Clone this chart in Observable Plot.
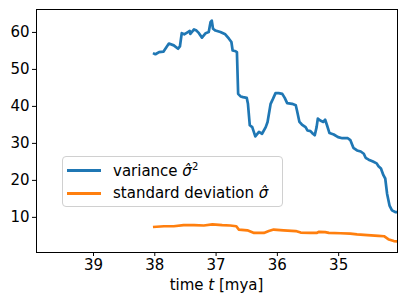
<!DOCTYPE html>
<html>
<head>
<meta charset="utf-8">
<script src="https://cdn.jsdelivr.net/npm/d3@7"></script>
<script src="https://cdn.jsdelivr.net/npm/@observablehq/plot@0.6"></script>
<style>
  html, body { margin: 0; padding: 0; background: #fff; }
  #wrap { position: relative; width: 407px; height: 305px; font-family: "DejaVu Sans", sans-serif; }
  #legend { position: absolute; left: 62px; top: 156px; width: 219px; height: 49px;
    border: 1px solid #d0d0d0; border-radius: 4px; background: rgba(255,255,255,0.8);
    font-size: 15px; color: #000; }
  .row { position: absolute; left: 0; height: 20px; display: flex; align-items: center; }
  .sw { display: inline-block; width: 34px; height: 3px; margin-left: 4px; margin-right: 12px; }
  #xlabel { position: absolute; top: 276px; left: 0; width: 433px; text-align: center; font-size: 15px; }
</style>
</head>
<body>
<div id="wrap"></div>
<script>
// variance σ̂² series
const varT = [38.03,37.99,37.93,37.86,37.77,37.69,37.62,37.59,37.56,37.52,37.46,37.43,37.42,37.36,37.32,37.28,37.23,37.17,37.12,37.09,37.07,37.05,37.01,36.93,36.85,36.79,36.75,36.73,36.68,36.66,36.64,36.60,36.56,36.50,36.48,36.45,36.41,36.36,36.30,36.25,36.19,36.16,36.11,36.07,36.03,35.98,35.92,35.88,35.84,35.76,35.70,35.68,35.64,35.60,35.54,35.51,35.46,35.42,35.39,35.36,35.34,35.30,35.25,35.22,35.19,35.15,35.08,35.01,34.94,34.85,34.81,34.76,34.70,34.64,34.59,34.56,34.51,34.44,34.38,34.35,34.31,34.27,34.24,34.21,34.17,34.13,34.07,34.04];
const varV = [54.4,54.1,54.7,54.8,57.0,56.5,55.6,56.2,59.8,59.5,60.1,60.4,59.6,60.8,60.5,59.8,58.6,59.8,60.1,62.8,63.2,61.0,60.5,60.1,59.5,58.3,57.4,55.1,54.9,54.7,43.4,42.7,42.5,42.3,40.7,34.9,34.4,31.9,33.1,32.6,34.4,35.8,40.7,42.1,43.6,43.6,43.4,42.3,40.9,40.7,40.3,38.9,35.8,35.1,34.4,33.5,33.3,32.6,32.2,34.4,36.7,36.2,35.8,36.4,34.9,32.8,32.4,31.7,31.4,31.4,30.9,28.8,28.1,27.8,27.2,26.1,25.6,25.1,24.6,23.8,23.2,21.4,20.5,16.4,13.2,11.9,11.4,11.4];
// standard deviation σ̂ series
const sdT = [38.03,37.85,37.69,37.53,37.36,37.20,37.06,36.90,36.77,36.67,36.63,36.49,36.38,36.22,36.14,36.06,35.90,35.70,35.62,35.46,35.36,35.32,35.22,35.16,34.97,34.81,34.70,34.53,34.35,34.26,34.18,34.10,34.04];
const sdV = [7.4,7.6,7.6,7.9,7.9,7.8,8.1,7.9,7.8,7.6,6.7,6.5,5.8,5.8,6.3,6.7,6.5,6.3,5.9,5.8,5.8,6.1,6.0,5.8,5.7,5.6,5.4,5.2,5.0,4.9,4.0,3.6,3.5];
const xTicks = [39,38,37,36,35];
const yTicks = [10,20,30,40,50,60];
const seriesNames = ["variance", "standard deviation"];

const varData = varT.map((t,i) => ({t, v: varV[i]}));
const sdData = sdT.map((t,i) => ({t, v: sdV[i]}));

const chart = Plot.plot({
  width: 407, height: 305,
  marginLeft: 36, marginRight: 10, marginTop: 9, marginBottom: 53,
  style: {fontFamily: "DejaVu Sans, sans-serif", fontSize: "15px", color: "#000", background: "#fff"},
  x: {domain: [39.93, 34.04]},
  y: {domain: [0.5, 66.2]},
  marks: [
    Plot.axisX({ticks: xTicks, tickSize: 4, tickPadding: 3, label: null, tickFormat: d => String(d), fontSize: 15}),
    Plot.axisY({ticks: yTicks, tickSize: 4, tickPadding: 3, label: null, fontSize: 15}),
    Plot.line(varData, {x: "t", y: "v", stroke: "#1f77b4", strokeWidth: 2.7, strokeLinejoin: "round", strokeLinecap: "butt"}),
    Plot.line(sdData, {x: "t", y: "v", stroke: "#ff7f0e", strokeWidth: 2.7, strokeLinejoin: "round", strokeLinecap: "butt"}),
    Plot.frame({stroke: "#000", strokeWidth: 1})
  ]
});
const wrap = document.getElementById("wrap");
wrap.appendChild(chart);

const legend = document.createElement("div");
legend.id = "legend";
legend.innerHTML =
  `<div class="row" style="top:3px"><span class="sw" style="background:#1f77b4"></span><span>${seriesNames[0]} <i>σ̂</i><sup style="font-size:10px">2</sup></span></div>` +
  `<div class="row" style="top:26px"><span class="sw" style="background:#ff7f0e"></span><span>${seriesNames[1]} <i>σ̂</i></span></div>`;
wrap.appendChild(legend);

const xl = document.createElement("div");
xl.id = "xlabel";
xl.innerHTML = `time <i>t</i> [mya]`;
wrap.appendChild(xl);
</script>
</body>
</html>
